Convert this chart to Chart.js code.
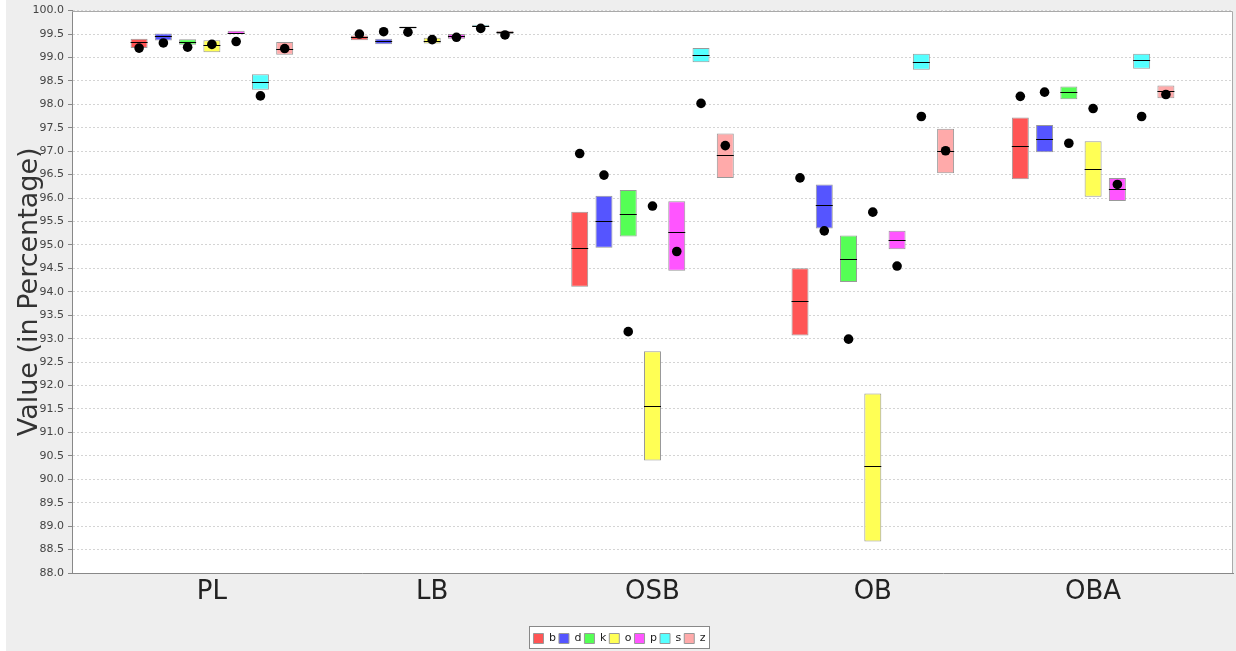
<!DOCTYPE html>
<html>
<head>
<meta charset="utf-8">
<script src="https://cdn.jsdelivr.net/npm/chart.js@4.4.1/dist/chart.umd.min.js"></script>
<style>
  html, body { margin: 0; padding: 0; background: #fff; overflow: hidden; }
  #wrap { position: absolute; left: 6px; top: 0; width: 1230px; height: 654px; }
</style>
</head>
<body>
<div id="wrap"><canvas id="boxChart"></canvas></div>
<script>
const groups = ['PL', 'LB', 'OSB', 'OB', 'OBA'];
const seriesNames = ['b', 'd', 'k', 'o', 'p', 's', 'z'];
const seriesColors = ['#FF5555', '#5555FF', '#55FF55', '#FFFF55', '#FF55FF', '#55FFFF', '#FFAAAA'];
const yTicks = { min: 88, max: 100, step: 0.5 };

// one row per series (b, d, k, o, p, s, z), one column per group (PL, LB, OSB, OB, OBA)
const lowerQuartiles = [
  [99.20, 99.37, 94.11, 93.07, 96.40],
  [99.36, 99.28, 94.94, 95.35, 96.98],
  [99.27, 99.62, 95.18, 94.21, 98.11],
  [99.11, 99.30, 90.40, 88.67, 96.03],
  [99.50, 99.40, 94.45, 94.91, 95.94],
  [98.31, 99.65, 98.90, 98.74, 98.76],
  [99.06, 99.50, 96.43, 96.53, 98.13]
];
const upperQuartiles = [
  [99.40, 99.47, 95.71, 94.50, 97.72],
  [99.51, 99.40, 96.05, 96.29, 97.56],
  [99.39, 99.66, 96.17, 95.20, 98.38],
  [99.37, 99.42, 92.73, 91.83, 97.21],
  [99.57, 99.50, 95.93, 95.30, 96.43],
  [98.64, 99.70, 99.20, 99.08, 99.08],
  [99.33, 99.57, 97.38, 97.48, 98.40]
];
const medians = [
  [99.32, 99.43, 94.94, 93.80, 97.11],
  [99.45, 99.35, 95.50, 95.86, 97.26],
  [99.33, 99.64, 95.67, 94.70, 98.26],
  [99.26, 99.36, 91.57, 90.28, 96.63],
  [99.53, 99.45, 95.28, 95.11, 96.19],
  [98.47, 99.67, 99.06, 98.91, 98.94],
  [99.19, 99.54, 96.92, 97.01, 98.28]
];
const means = [
  [99.20, 99.50, 96.95, 96.43, 98.17],
  [99.31, 99.55, 96.49, 95.30, 98.26],
  [99.22, 99.54, 93.15, 92.99, 97.17],
  [99.28, 99.38, 95.83, 95.70, 97.91],
  [99.34, 99.43, 94.86, 94.55, 96.29],
  [98.18, 99.62, 98.02, 97.74, 97.74],
  [99.19, 99.48, 97.12, 97.01, 98.21]
];

const datasets = seriesNames.map((name, i) => ({
  label: name,
  data: groups.map((g, j) => ({ x: j, y: [lowerQuartiles[i][j], upperQuartiles[i][j]] })),
  backgroundColor: seriesColors[i],
  borderColor: '#999999',
  borderWidth: 1,
  borderSkipped: false,
  categoryPercentage: 0.771,
  barPercentage: 0.70
}));

// grey panel, white plot area and the framed legend box
const panel = {
  id: 'panel',
  beforeDraw(chart) {
    const { ctx, chartArea: a } = chart;
    ctx.save();
    ctx.fillStyle = '#EEEEEE';
    ctx.fillRect(0, 0, chart.width, chart.height);
    ctx.fillStyle = '#FFFFFF';
    ctx.fillRect(a.left, a.top, a.right - a.left, a.bottom - a.top);
    const boxes = chart.legend.legendHitBoxes;
    if (boxes && boxes.length) {
      const l = boxes[0].left - 4;
      const last = boxes[boxes.length - 1];
      const r = last.left + last.width + 4;
      const t = boxes[0].top - 7;
      const b = boxes[0].top + boxes[0].height + 4;
      ctx.fillRect(l, t, r - l, b - t);
      ctx.strokeStyle = '#888888';
      ctx.lineWidth = 1;
      ctx.strokeRect(Math.round(l) + 0.5, Math.round(t) + 0.5, Math.round(r - l), Math.round(b - t));
    }
    ctx.restore();
  },
  afterDraw(chart) {
    const { ctx, chartArea: a } = chart;
    ctx.save();
    ctx.strokeStyle = '#AAAAAA';
    ctx.lineWidth = 1;
    ctx.beginPath();
    ctx.moveTo(a.left, Math.round(a.top) + 0.5);
    ctx.lineTo(Math.round(a.right) - 0.5, Math.round(a.top) + 0.5);
    ctx.lineTo(Math.round(a.right) - 0.5, a.bottom);
    ctx.stroke();
    ctx.restore();
  }
};

// median line across each box and the mean as a black dot
const boxMarks = {
  id: 'boxMarks',
  afterDatasetsDraw(chart) {
    const ctx = chart.ctx;
    const y = chart.scales.y;
    ctx.save();
    ctx.strokeStyle = '#000000';
    ctx.lineWidth = 1;
    chart.data.datasets.forEach((ds, i) => {
      chart.getDatasetMeta(i).data.forEach((bar, j) => {
        const my = Math.round(y.getPixelForValue(medians[i][j])) + 0.5;
        ctx.beginPath();
        ctx.moveTo(bar.x - bar.width / 2, my);
        ctx.lineTo(bar.x + bar.width / 2, my);
        ctx.stroke();
      });
    });
    ctx.fillStyle = '#000000';
    chart.data.datasets.forEach((ds, i) => {
      chart.getDatasetMeta(i).data.forEach((bar, j) => {
        ctx.beginPath();
        ctx.arc(bar.x, y.getPixelForValue(means[i][j]), 4.8, 0, Math.PI * 2);
        ctx.fill();
      });
    });
    ctx.restore();
  }
};

Chart.defaults.font.family = "'DejaVu Sans', sans-serif";

new Chart(document.getElementById('boxChart').getContext('2d'), {
  type: 'bar',
  data: { datasets: datasets },
  options: {
    responsive: true,
    maintainAspectRatio: false,
    animation: false,
    devicePixelRatio: 1,
    layout: { padding: { top: 9, right: 3, bottom: 0, left: 0 } },
    plugins: {
      tooltip: { enabled: false },
      legend: {
        position: 'bottom',
        labels: {
          boxWidth: 10,
          boxHeight: 10,
          padding: 3,
          color: '#222222',
          font: { size: 11 }
        }
      }
    },
    scales: {
      x: {
        type: 'linear',
        offset: false,
        min: -0.635,
        max: 4.635,
        grid: { display: false, drawTicks: false },
        border: { display: true, color: '#888888' },
        afterBuildTicks: (scale) => { scale.ticks = groups.map((g, j) => ({ value: j })); },
        afterFit: (scale) => { scale.height = 57; },
        ticks: {
          padding: 4,
          color: '#222222',
          font: { size: 26 },
          callback: (v) => groups[v]
        }
      },
      y: {
        min: yTicks.min,
        max: yTicks.max,
        afterFit: (scale) => { scale.width = 66; },
        grid: {
          color: '#D4D4D4',
          tickColor: '#888888',
          tickLength: 4,
          tickBorderDash: []
        },
        border: { display: true, color: '#888888', dash: [2, 2] },
        ticks: {
          stepSize: yTicks.step,
          autoSkip: false,
          padding: 4,
          color: '#444444',
          font: { size: 11 },
          callback: (v) => v.toFixed(1)
        },
        title: {
          display: true,
          text: 'Value (in Percentage)',
          color: '#333333',
          font: { size: 27 },
          padding: { top: 8, bottom: 0 }
        }
      }
    }
  },
  plugins: [panel, boxMarks]
});
</script>
</body>
</html>
